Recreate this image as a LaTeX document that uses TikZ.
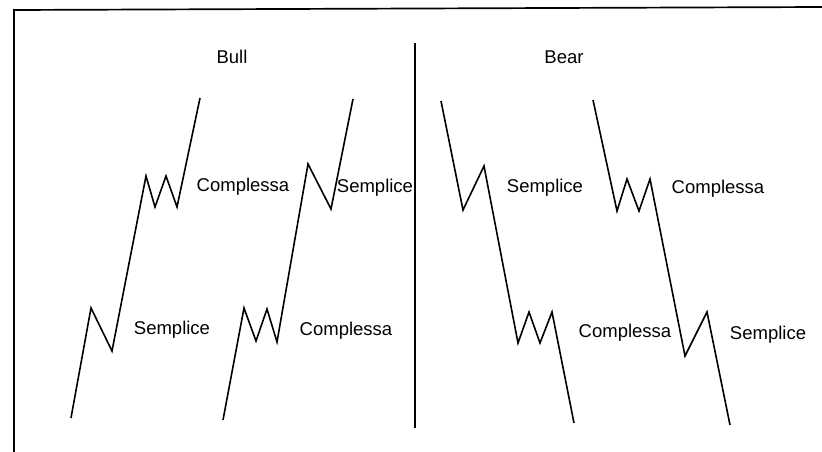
\documentclass[tikz,border=0pt]{standalone}
\usepackage{fontspec}
\setmainfont{Liberation Sans}
\usepackage{tikz}
\usetikzlibrary{positioning}

\begin{document}
\begin{tikzpicture}[
				x=1pt, y=-1pt,
				wave/.style={line width=1.6pt, line join=miter, color=black},
				frame/.style={line width=1.7pt, color=black},
				tlabel/.style={font=\fontsize{18.5}{20}\selectfont, inner sep=0pt, anchor=center}
				]
				\useasboundingbox (0,0) rectangle (822,452);
				
				% Frame and divider
				\draw[frame] (14,452) -- (14,10) -- (822,7);
				\draw[frame] (415,43) -- (415,428);
				
				% Titles
				\node[tlabel] (bull) at (232,57) {Bull};
				\node[tlabel] (bear) at (564,57) {Bear};
				
				% Bull waves
				\draw[wave] (71,418) -- (91,308) -- (112,351) -- (146,176) -- (155,207)
				-- (166,176) -- (177,207) -- (200,98);
				\draw[wave] (223,420) -- (244,308) -- (256,341) -- (267,309) -- (277,342)
				-- (308,164) -- (331,209) -- (353,99);
				
				% Bear waves
				\draw[wave] (441,101) -- (463,210) -- (484,166) -- (518,343) -- (529,312)
				-- (540,343) -- (552,312) -- (574,423);
				\draw[wave] (593,100) -- (617,211) -- (627,179) -- (639,211) -- (650,179)
				-- (685,356) -- (707,312) -- (730,425);
				
				% Labels
				\node[tlabel] (bullsemp1) at (172,330) {Semplice};
				\node[tlabel] (bullcomp1) at (243,187) {Complessa};
				\node[tlabel] (bullcomp2) at (346,331) {Complessa};
				\node[tlabel] (bullsemp2) at (375,188) {Semplice};
				\node[tlabel] (bearsemp1) at (545,188) {Semplice};
				\node[tlabel] (bearcomp1) at (625,333) {Complessa};
				\node[tlabel] (bearcomp2) at (718,189) {Complessa};
				\node[tlabel] (bearsemp2) at (768,335) {Semplice};
				
			\end{tikzpicture}
\end{document}
